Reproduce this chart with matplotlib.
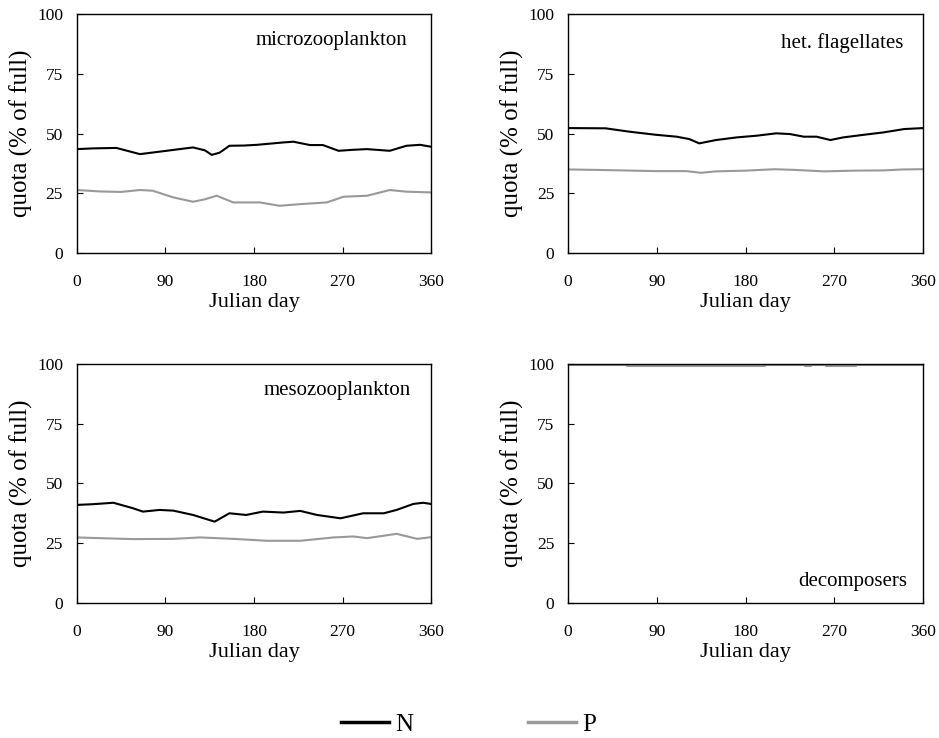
import matplotlib.pyplot as plt
from matplotlib.lines import Line2D

plt.rcParams["font.family"] = ["Liberation Serif", "DejaVu Serif"]

# microzooplankton
micro_n_day = [0, 16, 40, 64, 91, 110, 118, 130, 137, 145, 155, 170, 183, 210, 220, 237, 250, 266, 280, 295, 318, 335, 349, 360]
micro_n = [43.5, 43.8, 44.0, 41.4, 42.8, 43.8, 44.2, 43.0, 41.1, 42.0, 44.9, 45.0, 45.3, 46.3, 46.6, 45.2, 45.2, 42.8, 43.2, 43.5, 42.8, 44.9, 45.3, 44.5]
micro_p_day = [0, 23, 45, 64, 77, 98, 118, 130, 142, 159, 186, 206, 227, 254, 271, 295, 318, 335, 360]
micro_p = [26.4, 25.8, 25.6, 26.4, 26.1, 23.3, 21.5, 22.5, 24.0, 21.2, 21.2, 19.8, 20.5, 21.2, 23.6, 24.0, 26.4, 25.7, 25.4]

# het. flagellates
flag_n_day = [0, 38, 62, 89, 110, 123, 133, 150, 171, 191, 211, 225, 239, 252, 266, 279, 300, 320, 341, 360]
flag_n = [52.3, 52.2, 50.8, 49.5, 48.7, 47.7, 45.9, 47.3, 48.4, 49.1, 50.1, 49.8, 48.7, 48.7, 47.3, 48.4, 49.5, 50.5, 51.9, 52.3]
flag_p_day = [0, 30, 90, 120, 135, 150, 180, 210, 230, 260, 290, 320, 340, 360]
flag_p = [35.0, 34.8, 34.3, 34.3, 33.6, 34.2, 34.5, 35.1, 34.8, 34.2, 34.5, 34.6, 35.0, 35.1]

# mesozooplankton
meso_n_day = [0, 16, 37, 57, 67, 84, 98, 118, 140, 155, 172, 189, 210, 227, 244, 268, 291, 312, 325, 342, 352, 360]
meso_n = [41.0, 41.3, 41.9, 39.6, 38.2, 38.9, 38.6, 36.8, 34.0, 37.5, 36.8, 38.2, 37.8, 38.5, 36.8, 35.4, 37.5, 37.5, 38.9, 41.4, 41.9, 41.4]
meso_p_day = [0, 23, 57, 98, 125, 159, 193, 227, 261, 281, 295, 325, 346, 360]
meso_p = [27.4, 27.1, 26.7, 26.8, 27.4, 26.8, 26.0, 26.0, 27.4, 27.8, 27.1, 28.9, 26.8, 27.5]

# decomposers
deco_n_day = [0, 360]
deco_n = [100.0, 100.0]
deco_p_day = [0, 60, 200, 240, 246, 262, 292, 360]
deco_p = [99.7, 99.3, 99.7, 99.3, 99.7, 99.3, 99.7, 99.7]

panels = [
    ("microzooplankton", micro_n_day, micro_n, micro_p_day, micro_p),
    ("het. flagellates", flag_n_day, flag_n, flag_p_day, flag_p),
    ("mesozooplankton", meso_n_day, meso_n, meso_p_day, meso_p),
    ("decomposers", deco_n_day, deco_n, deco_p_day, deco_p),
]

x_ticks = [0, 90, 180, 270, 360]
y_ticks = [0, 25, 50, 75, 100]

N_COLOR = "black"
P_COLOR = "#999999"

fig = plt.figure(figsize=(9.39, 7.38), dpi=100)

ax_rects = [
    (0.082, 0.657, 0.377, 0.324),
    (0.605, 0.657, 0.378, 0.324),
    (0.082, 0.183, 0.377, 0.324),
    (0.605, 0.183, 0.378, 0.324),
]
text_pos = [(0.932, 0.89), (0.944, 0.88), (0.943, 0.89), (0.955, 0.088)]

for i, (name, nd, nv, pd_, pv) in enumerate(panels):
    ax = fig.add_axes(ax_rects[i])
    step = "steps-post" if name == "decomposers" else "default"
    ax.plot(pd_, pv, color=P_COLOR, linewidth=1.5, drawstyle=step)
    ax.plot(nd, nv, color=N_COLOR, linewidth=1.5)
    ax.set_xlim(0, 360)
    ax.set_ylim(0, 100)
    ax.set_xticks(x_ticks)
    ax.set_yticks(y_ticks)
    ax.tick_params(axis="x", direction="in", length=4, width=0.8, pad=15, labelsize=12.5)
    ax.tick_params(axis="y", direction="in", length=4, width=0.8, pad=10, labelsize=12.5)
    for sp in ax.spines.values():
        sp.set_linewidth(1.0)
    ax.set_xlabel("Julian day", fontsize=16)
    ax.set_ylabel("quota (% of full)", fontsize=18)
    ax.xaxis.set_label_coords(0.5, -0.168)
    ax.yaxis.set_label_coords(-0.123, 0.5)
    tx, ty = text_pos[i]
    ax.text(tx, ty, name, transform=ax.transAxes, ha="right", va="center", fontsize=15)

handles = [
    Line2D([], [], color=N_COLOR, linewidth=2.5),
    Line2D([], [], color=P_COLOR, linewidth=2.5),
]
fig.legend(handles, ["N", "P"], loc="center", bbox_to_anchor=(0.499, 0.018), ncol=2,
           frameon=False, fontsize=18, handlelength=1.9, handletextpad=0.25,
           columnspacing=4.6)

fig.savefig("out.png", dpi=100)
